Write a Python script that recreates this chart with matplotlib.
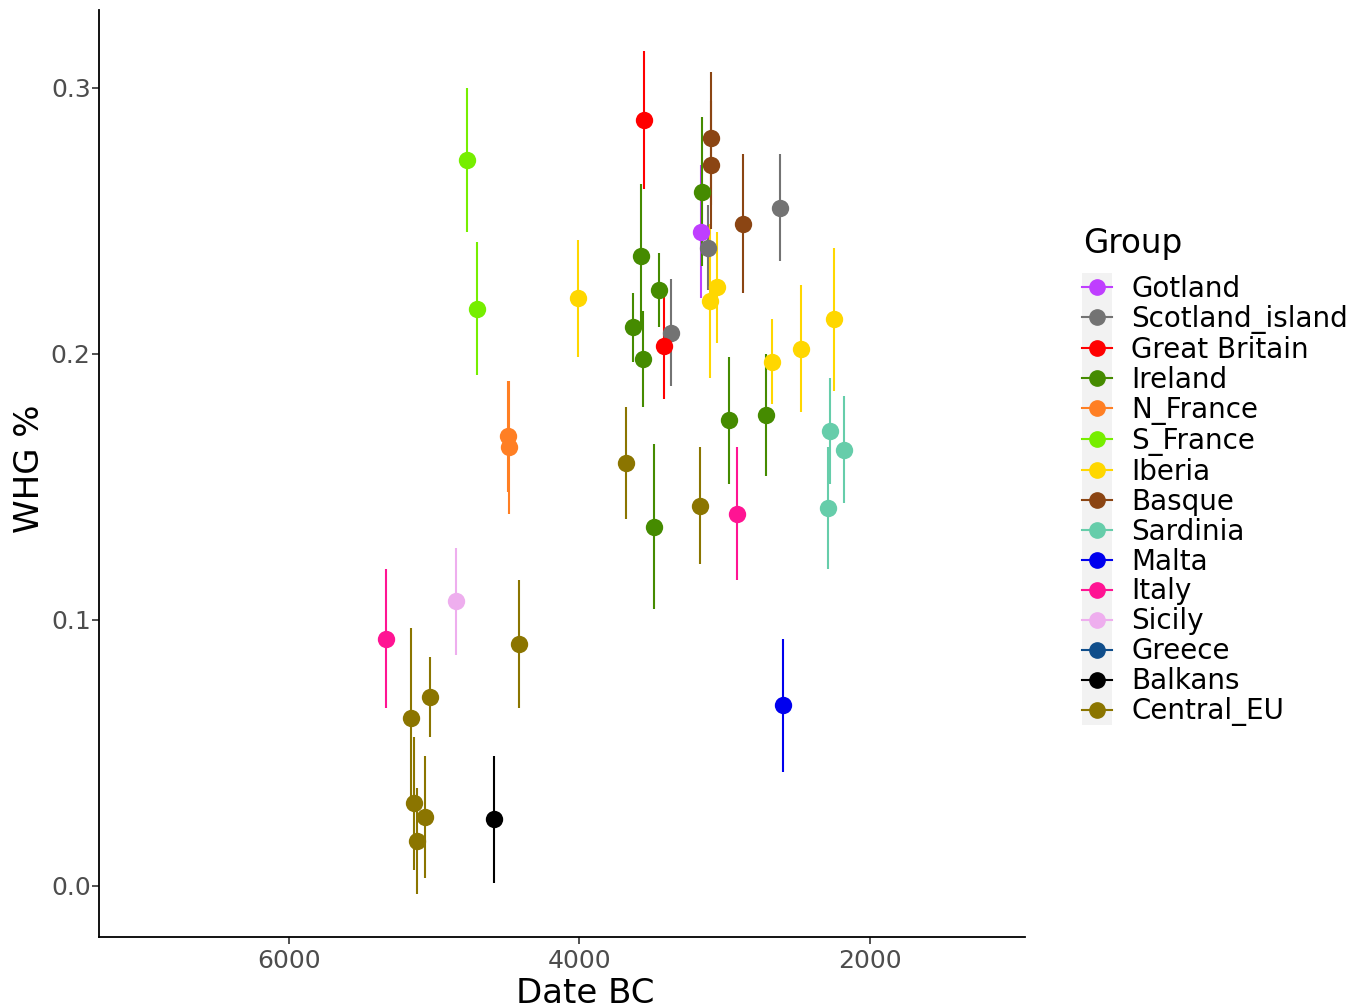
import matplotlib
matplotlib.use("Agg")
import matplotlib.pyplot as plt
from matplotlib.lines import Line2D
from matplotlib.patches import Rectangle

# legend order and colours
groups = ["Gotland", "Scotland_island", "Great Britain", "Ireland", "N_France",
          "S_France", "Iberia", "Basque", "Sardinia", "Malta", "Italy",
          "Sicily", "Greece", "Balkans", "Central_EU"]
group_colors = ["#BF3EFF", "#737373", "#FF0000", "#458B00", "#FF7F24",
                "#76EE00", "#FFD700", "#8B4513", "#66CDAA", "#0000EE",
                "#FF1493", "#EEAEEE", "#104E8B", "#000000", "#8B7500"]

# one entry per sample
sample_group = ["Gotland",
                "Scotland_island", "Scotland_island", "Scotland_island",
                "Great Britain", "Great Britain",
                "Ireland", "Ireland", "Ireland", "Ireland", "Ireland", "Ireland", "Ireland", "Ireland",
                "N_France", "N_France",
                "S_France", "S_France",
                "Iberia", "Iberia", "Iberia", "Iberia", "Iberia", "Iberia",
                "Basque", "Basque", "Basque",
                "Sardinia", "Sardinia", "Sardinia",
                "Malta",
                "Italy", "Italy",
                "Sicily",
                "Balkans",
                "Central_EU", "Central_EU", "Central_EU", "Central_EU",
                "Central_EU", "Central_EU", "Central_EU", "Central_EU"]
date_bc = [3160,
           2621, 3117, 3372,
           3552, 3414,
           3152, 3579, 3455, 3628, 3565, 2972, 2717, 3483,
           4490, 4483,
           4772, 4703,
           4007, 3055, 3103, 2676, 2476, 2248,
           3096, 3096, 2876,
           2276, 2179, 2290,
           2600,
           5331, 2917,
           4848,
           4586,
           3676, 3166, 4414, 5028, 5159, 5138, 5062, 5117]
whg = [0.246,
       0.255, 0.240, 0.208,
       0.288, 0.203,
       0.261, 0.237, 0.224, 0.210, 0.198, 0.175, 0.177, 0.135,
       0.169, 0.165,
       0.273, 0.217,
       0.221, 0.225, 0.220, 0.197, 0.202, 0.213,
       0.281, 0.271, 0.249,
       0.171, 0.164, 0.142,
       0.068,
       0.093, 0.140,
       0.107,
       0.025,
       0.159, 0.143, 0.091, 0.071, 0.063, 0.031, 0.026, 0.017]
whg_se = [0.025,
          0.020, 0.016, 0.020,
          0.026, 0.020,
          0.028, 0.027, 0.014, 0.013, 0.018, 0.024, 0.023, 0.031,
          0.021, 0.025,
          0.027, 0.025,
          0.022, 0.021, 0.029, 0.016, 0.024, 0.027,
          0.025, 0.024, 0.026,
          0.020, 0.020, 0.023,
          0.025,
          0.026, 0.025,
          0.020,
          0.024,
          0.021, 0.022, 0.024, 0.015, 0.034, 0.025, 0.023, 0.020]

fig = plt.figure(figsize=(13.59, 10.08), dpi=100)
ax = fig.add_axes([99 / 1359, 71 / 1008, (1025 - 99) / 1359, (937 - 10) / 1008])

color_of = dict(zip(groups, group_colors))
for i in range(len(whg)):
    c = color_of[sample_group[i]]
    ax.errorbar(date_bc[i], whg[i], yerr=whg_se[i], fmt="o", color=c,
                ecolor=c, elinewidth=1.5, markersize=12.5, capsize=0,
                markeredgewidth=0)

ax.set_xlim(7310, 930)
ax.set_ylim(-0.0192, 0.3293)
ax.set_xticks([6000, 4000, 2000])
ax.set_yticks([0.0, 0.1, 0.2, 0.3])
ax.set_yticklabels(["0.0", "0.1", "0.2", "0.3"])
ax.tick_params(labelsize=18, labelcolor="#4D4D4D", color="#333333",
               length=5, width=1.2)
ax.tick_params(axis="y", pad=1)
for s in ["top", "right"]:
    ax.spines[s].set_visible(False)
for s in ["left", "bottom"]:
    ax.spines[s].set_linewidth(1.3)
ax.set_xlabel("Date BC", fontsize=24.5)
ax.set_ylabel("WHG %", fontsize=24.5)
ax.xaxis.set_label_coords((585 - 99) / 926, -0.043)
ax.yaxis.set_label_coords(-0.057, 0.505)

# grey key background like ggplot
fig.patches.append(Rectangle((1082 / 1359, 1 - 725 / 1008), 30 / 1359,
                             (725 - 273) / 1008, transform=fig.transFigure,
                             facecolor="#F2F2F2", edgecolor="none", zorder=0))

fig.text(1083 / 1359, 1 - 253 / 1008, "Group", fontsize=23.5,
         ha="left", va="baseline")

handles = [Line2D([], [], color=c, marker="o", markersize=11, linewidth=1.5)
           for c in group_colors]
leg = fig.legend(handles, groups, loc="upper left", numpoints=1,
                 bbox_to_anchor=(1082 / 1359, 1 - 275 / 1008),
                 frameon=False, fontsize=20,
                 labelspacing=0.07, handlelength=1.08, handletextpad=0.7,
                 borderpad=0, borderaxespad=0)

fig.savefig("out.png", dpi=100)
